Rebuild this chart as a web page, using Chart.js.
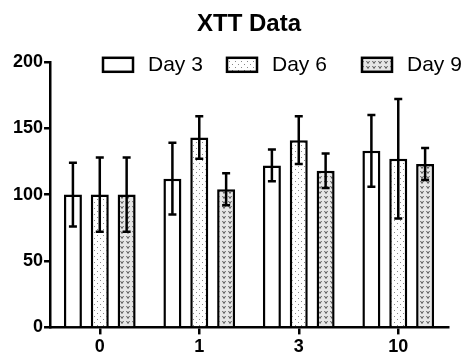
<!DOCTYPE html>
<html>
<head>
<meta charset="utf-8">
<script src="https://cdn.jsdelivr.net/npm/chart.js@4"></script>
<style>
  html, body { margin: 0; padding: 0; background: #fff; }
  #wrap { width: 467px; height: 354px; }
</style>
</head>
<body>
<div id="wrap"><canvas id="chart"></canvas></div>
<script>
const categories = ['0', '1', '3', '10'];
const seriesNames = ['Day 3', 'Day 6', 'Day 9'];
const day3 = [100, 112, 122, 133];
const day6 = [100, 143, 141, 127];
const day9 = [100, 104, 118, 123];
const day3Err = [24, 27, 12, 27];
const day6Err = [28, 16, 18, 45];
const day9Err = [28, 12, 13, 12];
const yTicks = [0, 50, 100, 150, 200];

function makePattern(kind) {
    const c = document.createElement('canvas');
    const x = c.getContext('2d');
    if (kind === 'dots') {
        c.width = 6; c.height = 6;
        x.fillStyle = '#ffffff';
        x.fillRect(0, 0, 6, 6);
        x.fillStyle = '#888888';
        x.fillRect(1, 1, 1, 1);
        x.fillRect(4, 4, 1, 1);
    } else if (kind === 'none') {
        c.width = 2; c.height = 2;
        x.fillStyle = '#ffffff';
        x.fillRect(0, 0, 2, 2);
    } else {
        c.width = 6; c.height = 5;
        x.fillStyle = '#e6e6e6';
        x.fillRect(0, 0, 6, 5);
        x.strokeStyle = '#555555';
        x.lineWidth = 1;
        x.beginPath();
        x.moveTo(0.5, 1);
        x.lineTo(2, 3.5);
        x.lineTo(3.5, 1);
        x.stroke();
    }
    return x.createPattern(c, 'repeat');
}

const fills = [makePattern('none'), makePattern('dots'), makePattern('vees')];
const values = [day3, day6, day9];
const errors = [day3Err, day6Err, day9Err];

const errorBars = {
    id: 'errorBars',
    afterDatasetsDraw(chart) {
        const ctx = chart.ctx;
        const y = chart.scales.y;
        ctx.save();
        ctx.strokeStyle = '#000';
        ctx.lineWidth = 2.5;
        chart.data.datasets.forEach((ds, i) => {
            const meta = chart.getDatasetMeta(i);
            meta.data.forEach((bar, j) => {
                const v = ds.data[j];
                const e = errors[i][j];
                const top = y.getPixelForValue(v + e);
                const bot = y.getPixelForValue(v - e);
                ctx.beginPath();
                ctx.moveTo(bar.x, top);
                ctx.lineTo(bar.x, bot);
                ctx.moveTo(bar.x - 4, top);
                ctx.lineTo(bar.x + 4, top);
                ctx.moveTo(bar.x - 4, bot);
                ctx.lineTo(bar.x + 4, bot);
                ctx.stroke();
            });
        });
        ctx.restore();
    }
};

// legend sits inside the plot area, so it is drawn here
const innerLegend = {
    id: 'innerLegend',
    afterDraw(chart) {
        const ctx = chart.ctx;
        const top = chart.chartArea.top;
        const starts = [103, 227, 362];
        ctx.save();
        ctx.font = '21px Arial, "Liberation Sans", sans-serif';
        ctx.textBaseline = 'middle';
        chart.data.datasets.forEach((ds, i) => {
            const x0 = starts[i];
            ctx.fillStyle = ds.backgroundColor;
            ctx.fillRect(x0, top - 4, 30, 14);
            ctx.strokeStyle = '#000';
            ctx.lineWidth = 2.5;
            ctx.strokeRect(x0, top - 4, 30, 14);
            ctx.fillStyle = '#000';
            ctx.fillText(ds.label, x0 + 45, top + 3);
        });
        ctx.restore();
    }
};

new Chart(document.getElementById('chart'), {
    type: 'bar',
    data: {
        labels: categories,
        datasets: seriesNames.map((name, i) => ({
            label: name,
            data: values[i],
            backgroundColor: fills[i],
            borderColor: '#000',
            borderWidth: 2.5,
            borderSkipped: 'bottom',
            categoryPercentage: 0.81,
            barPercentage: 0.67
        }))
    },
    options: {
        responsive: true,
        maintainAspectRatio: false,
        animation: false,
        layout: { padding: { top: 10, right: 19, left: 12, bottom: -6 } },
        plugins: {
            legend: { display: false },
            tooltip: { enabled: false },
            title: {
                display: true,
                text: 'XTT Data',
                fullSize: false,
                color: '#000',
                font: { family: 'Arial, "Liberation Sans", sans-serif', size: 24, weight: 'bold' },
                padding: { top: 0, bottom: 23 }
            }
        },
        scales: {
            x: {
                grid: { display: true, drawOnChartArea: false, offset: false, color: '#000', lineWidth: 2.5, tickLength: 7 },
                border: { color: '#000', width: 2.5 },
                ticks: {
                    color: '#000',
                    padding: 2,
                    font: { family: 'Arial, "Liberation Sans", sans-serif', size: 18, weight: 'bold' }
                }
            },
            y: {
                min: 0,
                max: 200,
                afterBuildTicks(scale) { scale.ticks = yTicks.map(v => ({ value: v })); },
                grid: { display: true, drawOnChartArea: false, color: '#000', lineWidth: 2.5, tickLength: 6 },
                border: { color: '#000', width: 2.5 },
                ticks: {
                    color: '#000',
                    padding: 1,
                    font: { family: 'Arial, "Liberation Sans", sans-serif', size: 18, weight: 'bold' }
                }
            }
        }
    },
    plugins: [errorBars, innerLegend]
});
</script>
</body>
</html>
